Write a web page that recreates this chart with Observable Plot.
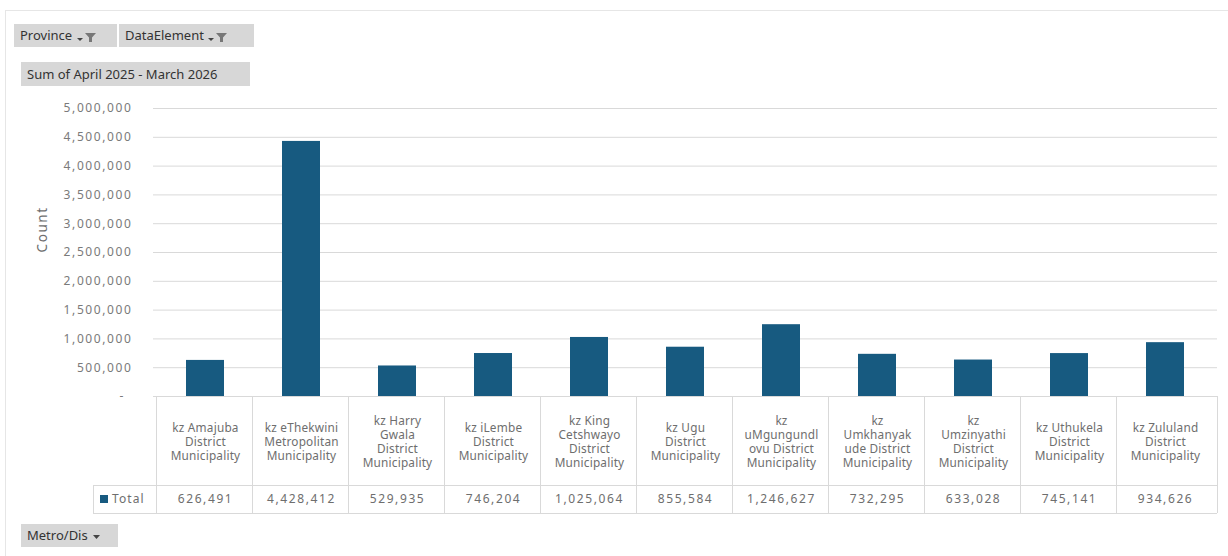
<!DOCTYPE html>
<html>
<head>
<meta charset="utf-8">
<script src="https://cdn.jsdelivr.net/npm/d3@7"></script>
<script src="https://cdn.jsdelivr.net/npm/@observablehq/plot@0.6"></script>
<style>
  html, body { margin: 0; padding: 0; background: #fff; }
  body { width: 1228px; height: 556px; position: relative; overflow: hidden; font-family: "Noto Sans", sans-serif; }
  #frame { position: absolute; left: 5px; top: 10px; right: 0; bottom: 0; border-top: 1px solid #e6e6e6; border-left: 1px solid #e6e6e6; }
  .btn { position: absolute; background: #d7d7d7; color: #333; font-size: 13px; height: 23px; line-height: 23px; padding: 0 6px; box-sizing: border-box; white-space: nowrap; }
  .btn svg { vertical-align: middle; }
  #chart { position: absolute; left: 0; top: 0; }
  #chart svg text { letter-spacing: 1.6px; }
  #chart svg g[aria-label="x-axis tick label"] text { letter-spacing: 0.2px; }
</style>
</head>
<body>
<div id="frame"></div>
<div id="chart"></div>
<div class="btn" style="left:14px;top:24px;width:103px;">Province <svg width="22" height="12"><path d="M1 7h6l-3 3z" fill="#444"/><path d="M9 2h11l-4 4.5v4.5h-3v-4.5z" fill="#777"/></svg></div>
<div class="btn" style="left:119px;top:24px;width:135px;">DataElement <svg width="22" height="12"><path d="M1 7h6l-3 3z" fill="#444"/><path d="M9 2h11l-4 4.5v4.5h-3v-4.5z" fill="#777"/></svg></div>
<div class="btn" style="left:21px;top:62px;width:229px;height:24px;line-height:24px;">Sum of April 2025 - March 2026</div>
<div class="btn" style="left:21px;top:524px;width:97px;">Metro/Dis <svg width="12" height="12"><path d="M2 4h7l-3.5 4z" fill="#444"/></svg></div>
<script>
const categories = [
  "kz Amajuba District Municipality",
  "kz eThekwini Metropolitan Municipality",
  "kz Harry Gwala District Municipality",
  "kz iLembe District Municipality",
  "kz King Cetshwayo District Municipality",
  "kz Ugu District Municipality",
  "kz uMgungundlovu District Municipality",
  "kz Umkhanyakude District Municipality",
  "kz Umzinyathi District Municipality",
  "kz Uthukela District Municipality",
  "kz Zululand District Municipality"
];
const tickLabels = [
  "kz Amajuba\nDistrict\nMunicipality",
  "kz eThekwini\nMetropolitan\nMunicipality",
  "kz Harry\nGwala\nDistrict\nMunicipality",
  "kz iLembe\nDistrict\nMunicipality",
  "kz King\nCetshwayo\nDistrict\nMunicipality",
  "kz Ugu\nDistrict\nMunicipality",
  "kz\nuMgungundl\novu District\nMunicipality",
  "kz\nUmkhanyak\nude District\nMunicipality",
  "kz\nUmzinyathi\nDistrict\nMunicipality",
  "kz Uthukela\nDistrict\nMunicipality",
  "kz Zululand\nDistrict\nMunicipality"
];
const values = [626491, 4428412, 529935, 746204, 1025064, 855584, 1246627, 732295, 633028, 745141, 934626];
const yTicks = [0, 500000, 1000000, 1500000, 2000000, 2500000, 3000000, 3500000, 4000000, 4500000, 5000000];
const seriesName = "Total";
const yLabel = "Count";

const data = categories.map((c, i) => ({cat: c, value: values[i]}));
const fmt = d3.format(",");
const labelOf = new Map(categories.map((c, i) => [c, tickLabels[i]]));

const W = 1228, H = 556;
const mL = 153, mR = 11, mT = 108, mB = 160;
const padIn = 0.6, padOut = 0.3;
const gridColor = "#d9d9d9";
const textColor = "#6e6e6e";
const barColor = "#175a80";

// table drawn through the x band scale
function tableMark(index, scales, values_, dims) {
  const step = (dims.width - dims.marginLeft - dims.marginRight) / categories.length;
  const yTop = dims.height - dims.marginBottom;
  const yMid = yTop + 89, yBot = yTop + 117;
  const x0 = dims.marginLeft, x1 = dims.width - dims.marginRight;
  const g = d3.create("svg:g").attr("stroke", gridColor).attr("fill", "none").attr("shape-rendering", "crispEdges");
  g.append("line").attr("x1", x0).attr("x2", x1).attr("y1", yTop).attr("y2", yTop);
  g.append("line").attr("x1", x0 - 60).attr("x2", x1).attr("y1", yMid).attr("y2", yMid);
  g.append("line").attr("x1", x0 - 60).attr("x2", x1).attr("y1", yBot).attr("y2", yBot);
  g.append("line").attr("x1", x0 - 60).attr("x2", x0 - 60).attr("y1", yMid).attr("y2", yBot);
  for (const c of categories) {
    const left = scales.x(c) - padOut * step;
    g.append("line").attr("x1", left).attr("x2", left).attr("y1", yTop).attr("y2", yBot);
  }
  g.append("line").attr("x1", x1).attr("x2", x1).attr("y1", yTop).attr("y2", yBot);
  // legend key + series name
  g.append("rect").attr("x", x0 - 53).attr("y", yMid + 10).attr("width", 8).attr("height", 8).attr("fill", barColor).attr("stroke", "none");
  g.append("text").attr("x", x0 - 41).attr("y", yMid + 14).attr("dy", "0.35em").attr("fill", textColor).attr("stroke", "none")
    .attr("text-anchor", "start").attr("font-size", 12).attr("style", "letter-spacing:1.1px").text(seriesName);
  return g.node();
}

const chart = Plot.plot({
  width: W,
  height: H,
  marginLeft: mL,
  marginRight: mR,
  marginTop: mT,
  marginBottom: mB,
  style: {fontFamily: "'Noto Sans', sans-serif", fontSize: "12px", background: "transparent", overflow: "visible"},
  x: {domain: categories, paddingInner: padIn, paddingOuter: padOut, label: null},
  y: {domain: [0, 5000000], label: null},
  marks: [
    Plot.gridY(yTicks.filter(d => d > 0), {stroke: gridColor, strokeOpacity: 1}),
    Plot.barY(data, {x: "cat", y: "value", fill: barColor}),
    Plot.axisY(yTicks, {
      tickSize: 0, tickPadding: 21, color: "#7a7a7a", fontSize: 12,
      tickFormat: d => d === 0 ? "-\u2002" : fmt(d),
      label: null
    }),
    Plot.text([yLabel], {frameAnchor: "left", dx: -111, rotate: -90, fill: textColor, fontSize: 13.5}),
    Plot.axisX({
      tickSize: 0, tickPadding: 45, lineAnchor: "middle", lineHeight: 1.2, color: textColor,
      fontSize: 11.8,
      tickFormat: d => labelOf.get(d), label: null
    }),
    Plot.text(data, {x: "cat", text: d => fmt(d.value), frameAnchor: "bottom", dy: 106, fill: textColor, fontSize: 12}),
    tableMark
  ]
});
document.getElementById("chart").appendChild(chart);
</script>
</body>
</html>
